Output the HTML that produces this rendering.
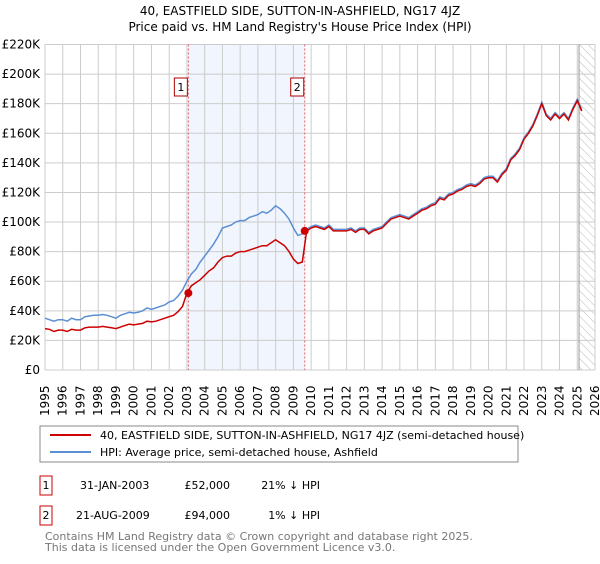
<!DOCTYPE html>
<html><head><meta charset="utf-8">
<style>
body{margin:0;background:#fff;font-family:"DejaVu Sans","Liberation Sans",sans-serif;}
svg text{font-family:"DejaVu Sans","Liberation Sans",sans-serif;}
</style></head>
<body>
<svg id="chart" width="600" height="560" xmlns="http://www.w3.org/2000/svg">
<defs>
<pattern id="hatch" width="6" height="6" patternUnits="userSpaceOnUse" patternTransform="rotate(-45)">
<line x1="0" y1="0" x2="0" y2="6" stroke="#bbb" stroke-width="1"/>
</pattern>
</defs>
<text x="300" y="15" text-anchor="middle" font-size="12">40, EASTFIELD SIDE, SUTTON-IN-ASHFIELD, NG17 4JZ</text>
<text x="300" y="31" text-anchor="middle" font-size="12">Price paid vs. HM Land Registry's House Price Index (HPI)</text>
<g id="grid"></g>
<g id="marks"></g>
<g id="axes"></g>
<rect x="40" y="426" width="478" height="36" fill="#fff" stroke="#888"/>
<line x1="50" y1="435" x2="91" y2="435" stroke="#cc0000" stroke-width="2"/>
<text x="100" y="439" font-size="11">40, EASTFIELD SIDE, SUTTON-IN-ASHFIELD, NG17 4JZ (semi-detached house)</text>
<line x1="50" y1="452" x2="91" y2="452" stroke="#5b8fd4" stroke-width="2"/>
<text x="100" y="456" font-size="11">HPI: Average price, semi-detached house, Ashfield</text>
<rect x="40" y="476" width="12" height="19" fill="#fff" stroke="#cc0000"/>
<text x="46" y="489" font-size="11" text-anchor="middle">1</text>
<text x="80" y="489" font-size="11">31-JAN-2003</text>
<text x="230" y="489" font-size="11" text-anchor="end">£52,000</text>
<text x="320" y="489" font-size="11" text-anchor="end">21% ↓ HPI</text>
<rect x="40" y="506" width="12" height="19" fill="#fff" stroke="#cc0000"/>
<text x="46" y="519" font-size="11" text-anchor="middle">2</text>
<text x="76" y="519" font-size="11">21-AUG-2009</text>
<text x="230" y="519" font-size="11" text-anchor="end">£94,000</text>
<text x="320" y="519" font-size="11" text-anchor="end">1% ↓ HPI</text>
<text x="45" y="540" font-size="11" fill="#777">Contains HM Land Registry data © Crown copyright and database right 2025.</text>
<text x="45" y="551" font-size="11" fill="#777">This data is licensed under the Open Government Licence v3.0.</text>
</svg>
<script>
const yTicks=[0,20,40,60,80,100,120,140,160,180,200,220];
const yTickLabels=["£0","£20K","£40K","£60K","£80K","£100K","£120K","£140K","£160K","£180K","£200K","£220K"];
const years=[1995,1996,1997,1998,1999,2000,2001,2002,2003,2004,2005,2006,2007,2008,2009,2010,2011,2012,2013,2014,2015,2016,2017,2018,2019,2020,2021,2022,2023,2024,2025,2026];
const hpiStart=1995;
const hpiValues=[35,34,33,34, 34,33,35,34, 34,36,36.5,37, 37,37.5,37,36, 35,37,38,39, 38.5,39,40,42,
 41,42,43,44, 46,47,50,54, 60,65,68,73, 77,81,85,90, 96,97,98,100, 101,101,103,104, 105,107,106,108,
 111,109,106,102, 96,91,92,95, 97,98,97,96, 98,95,95,95, 95,96,94,96, 96,93,95,96, 97,100,103,104,
 105,104,103,105, 107,109,110,112, 113,117,116,119, 120,122,123,125, 126,125,127,130, 131,131,128,133,
 136,143,146,150, 157,161,166,173, 181,173,170,174, 171,174,170,177, 183,176];
const priceStart=1995;
const priceValues=[28,27.5,26,27, 27,26,27.5,27, 27,28.5,29,29, 29,29.5,29,28.5, 28,29,30,31, 30.5,31,31.5,33,
 32.5,33,34,35, 36,37,39.5,43, 52,57,59,61, 64,67,69,73, 76,77,77,79, 80,80,81,82, 83,84,84,86,
 88,86,84,80, 75,72,73,94, 96,97,96,95, 97,94,94,94, 94,95,93,95, 95,92,94,95, 96,99,102,103,
 104,103,102,104, 106,108,109,111, 112,116,115,118, 119,121,122,124, 125,124,126,129, 130,130,127,132,
 135,142,145,149, 156,160,165,172, 180,172,169,173, 170,173,169,176, 182,175];
const saleDates=[2003.08,2009.64];
const salePrices=[52,94];
const saleLabels=["1","2"];

const X0=45,X1=595,Y0=370,Y1=44.5;
const xs=t=>X0+(t-1995)*(X1-X0)/31;
const ys=v=>Y0-v*(Y0-Y1)/220;
const NS="http://www.w3.org/2000/svg";
function mk(tag,parent,attrs){const e=document.createElementNS(NS,tag);for(const k in attrs)e.setAttribute(k,attrs[k]);parent.appendChild(e);return e;}
const grid=document.getElementById('grid'),marks=document.getElementById('marks'),axes=document.getElementById('axes');

let shade=mk('rect',grid,{x:xs(saleDates[0]),y:Y1,width:xs(saleDates[1])-xs(saleDates[0]),height:Y0-Y1,fill:'#eef3fc',opacity:0.8});


let hat=mk('rect',grid,{x:xs(2025.1),y:Y1,width:X1-xs(2025.1),height:Y0-Y1,fill:'url(#hatch)'});



yTicks.forEach((v,i)=>{
 let l=mk('line',grid,{x1:X0,x2:X1,y1:ys(v),y2:ys(v),stroke:'#ccc','stroke-width':1});
 
 
 let t=mk('text',axes,{x:X0-5,y:ys(v)+4,'text-anchor':'end','font-size':12});
 t.textContent=yTickLabels[i];
 
 
});
years.forEach(y=>{
 let l=mk('line',grid,{x1:xs(y),x2:xs(y),y1:Y1,y2:Y0,stroke:'#ccc','stroke-width':1});
 
 
 let t=mk('text',axes,{x:0,y:0,'font-size':12,transform:`translate(${xs(y)+4},${Y0+46}) rotate(-90)`});
 t.textContent=String(y);
 
 
});
let nl=mk('line',grid,{x1:xs(2025.1),x2:xs(2025.1),y1:Y1,y2:Y0,stroke:'#999','stroke-width':1});



saleDates.forEach((d,i)=>{
 let l=mk('line',grid,{x1:xs(d),x2:xs(d),y1:Y1,y2:Y0,stroke:'#e06060','stroke-width':1,'stroke-dasharray':'2,2'});
 
 
 let b=mk('rect',axes,{x:xs(d)-14,y:78,width:13,height:18,fill:'#fff',stroke:'#aa0000'});
 
 
 let t=mk('text',axes,{x:xs(d)-7.5,y:91,'text-anchor':'middle','font-size':11});
 t.textContent=saleLabels[i];
 
 
});

function pts(start,vals){return vals.map((v,i)=>xs(start+i*0.25).toFixed(1)+','+ys(v).toFixed(1)).join(' ');}
let hp=mk('polyline',marks,{points:pts(hpiStart,hpiValues),fill:'none',stroke:'#5b8fd4','stroke-width':1.5});


let pp=mk('polyline',marks,{points:pts(priceStart,priceValues),fill:'none',stroke:'#cc0000','stroke-width':1.5});


saleDates.forEach((d,i)=>{
 let c=mk('circle',marks,{cx:xs(d),cy:ys(salePrices[i]),r:4,fill:'#cc0000'});
 
 
});
</script>
</body></html>
